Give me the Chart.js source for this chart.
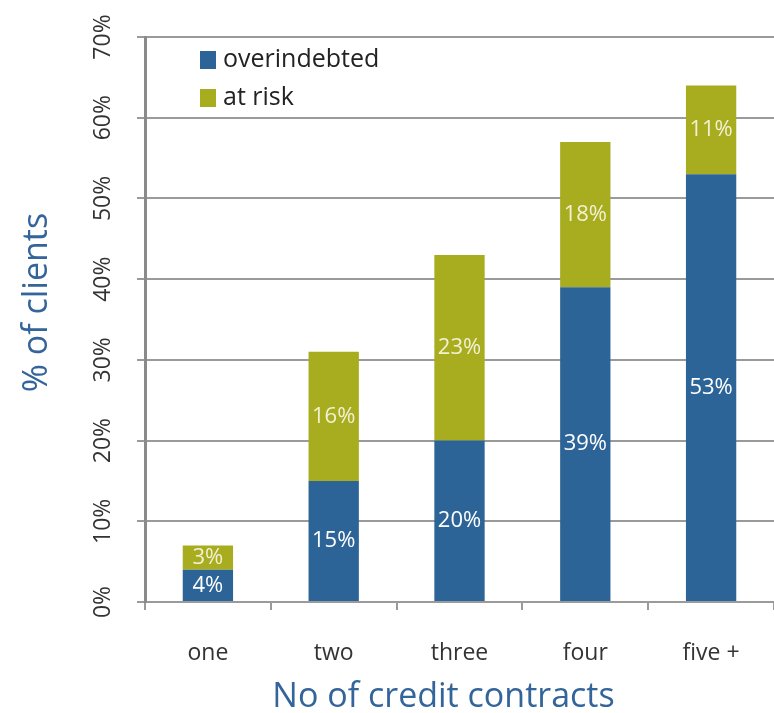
<!DOCTYPE html>
<html>
<head>
<meta charset="utf-8">
<script src="https://cdn.jsdelivr.net/npm/chart.js@4.4.1/dist/chart.umd.min.js"></script>
<style>
    html, body { margin: 0; padding: 0; background: #fff; overflow: hidden; }
    #chart { display: block; }
</style>
</head>
<body>
<canvas id="chart" width="774" height="713"></canvas>
<script>
const categories = ["one", "two", "three", "four", "five +"];
const overindebted = [4, 15, 20, 39, 53];
const atRisk = [3, 16, 23, 18, 11];
const yMax = 70;
const yStep = 10;
const xTitle = "No of credit contracts";
const yTitle = "% of clients";

const FONT = "'Open Sans', 'DejaVu Sans', sans-serif";
const BLUE = "#2d6497";
const OLIVE = "#a7ad1f";
const TITLE_BLUE = "#33659b";
const GRID = "#9a9a9a";

// legend drawn inside the plot, top-left
const innerLegend = {
    id: "innerLegend",
    afterDraw(chart) {
        const ctx = chart.ctx;
        const area = chart.chartArea;
        ctx.save();
        ctx.font = "25px " + FONT;
        ctx.textBaseline = "middle";
        ctx.textAlign = "left";
        chart.data.datasets.forEach((ds, i) => {
            const y = area.top + 23 + i * 38;
            ctx.fillStyle = ds.backgroundColor;
            ctx.fillRect(area.left + 55, y - 9, 16, 18);
            ctx.fillStyle = "#222";
            ctx.fillText(ds.label, area.left + 78, y);
        });
        ctx.restore();
    }
};

// value labels centred in each bar segment
const segmentLabels = {
    id: "segmentLabels",
    afterDatasetsDraw(chart) {
        const ctx = chart.ctx;
        ctx.save();
        ctx.font = "22px " + FONT;
        ctx.textAlign = "center";
        ctx.textBaseline = "middle";
        chart.data.datasets.forEach((ds, i) => {
            const meta = chart.getDatasetMeta(i);
            ctx.fillStyle = ds.labelColor;
            meta.data.forEach((bar, j) => {
                const y = (bar.y + bar.base) / 2;
                ctx.fillText(ds.data[j] + "%", bar.x, y);
            });
        });
        ctx.restore();
    }
};

// axis titles, set a little up and left of the plot centre
const axisTitles = {
    id: "axisTitles",
    afterDraw(chart) {
        const ctx = chart.ctx;
        const area = chart.chartArea;
        ctx.save();
        ctx.fillStyle = TITLE_BLUE;
        ctx.font = "34px " + FONT;
        ctx.textAlign = "center";
        ctx.textBaseline = "middle";
        ctx.fillText(xTitle, (area.left + area.right) / 2 - 16, chart.height - 16);
        ctx.translate(37, (area.top + area.bottom) / 2 - 17);
        ctx.rotate(-Math.PI / 2);
        ctx.fillText(yTitle, 0, 0);
        ctx.restore();
    }
};

new Chart(document.getElementById("chart"), {
    type: "bar",
    data: {
        labels: categories,
        datasets: [
            {
                label: "overindebted",
                data: overindebted,
                backgroundColor: BLUE,
                labelColor: "#ffffff",
                barPercentage: 0.8,
                categoryPercentage: 0.5,
            },
            {
                label: "at risk",
                data: atRisk,
                backgroundColor: OLIVE,
                labelColor: "#f3f0d4",
                barPercentage: 0.8,
                categoryPercentage: 0.5,
            },
        ],
    },
    options: {
        responsive: false,
        animation: false,
        layout: { padding: { top: 37, left: 0, right: 0, bottom: 0 } },
        plugins: {
            legend: { display: false },
            tooltip: { enabled: false },
        },
        scales: {
            x: {
                stacked: true,
                grid: {
                    drawOnChartArea: false,
                    drawTicks: true,
                    tickLength: 8,
                    color: GRID,
                    lineWidth: 2,
                    offset: true,
                },
                border: { color: GRID, width: 2 },
                ticks: {
                    color: "#333",
                    padding: 30,
                    font: { family: FONT, size: 23 },
                },
                afterFit(scale) {
                    scale.height = 111;
                },
            },
            y: {
                stacked: true,
                min: 0,
                max: yMax,
                grid: {
                    color: GRID,
                    lineWidth: 2,
                    tickLength: 8,
                },
                border: { color: "#8a8a8a", width: 3 },
                ticks: {
                    stepSize: yStep,
                    minRotation: 90,
                    maxRotation: 90,
                    crossAlign: "center",
                    padding: 11,
                    color: "#333",
                    font: { family: FONT, size: 23 },
                    callback: (v) => v + "%",
                },
                afterFit(scale) {
                    scale.width = 145;
                },
            },
        },
    },
    plugins: [innerLegend, segmentLabels, axisTitles],
});
</script>
</body>
</html>
